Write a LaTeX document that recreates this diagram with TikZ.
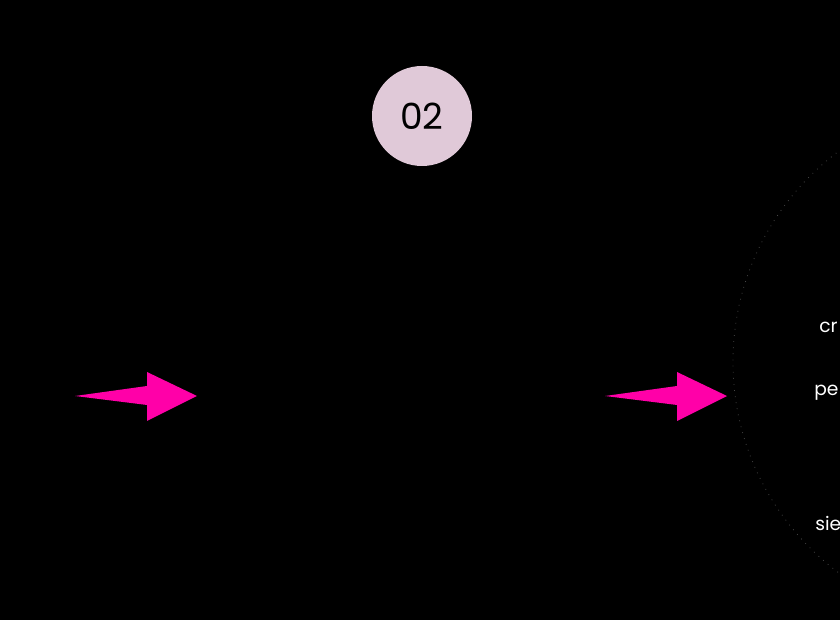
\documentclass[tikz,border=0pt]{standalone}
\usepackage{fontspec}
\setmainfont{Poppins}
\definecolor{bgblack}{RGB}{0,0,0}
\definecolor{mauve}{RGB}{224,201,216}
\definecolor{hotpink}{RGB}{255,0,168}
\definecolor{ringgray}{RGB}{70,70,70}
\tikzset{
  pinkarrow/.style={fill=hotpink, draw=none},
  bodytext/.style={text=black, font=\fontsize{14.5}{24.6}\selectfont, align=center, inner sep=0pt},
  sidetext/.style={text=black, font=\fontsize{14.5}{24.6}\selectfont, align=right, inner sep=0pt, anchor=east},
  cuttext/.style={text=white, font=\fontsize{14}{18}\selectfont, inner sep=0pt, anchor=west},
}
\begin{document}
\begin{tikzpicture}[x=0.75pt,y=-0.75pt]
\fill[bgblack] (0,0) rectangle (840,620);
\useasboundingbox (0,0) rectangle (840,620);
\clip (0,0) rectangle (840,620);
% step number badge
\node[circle, fill=mauve, minimum size=75pt, inner sep=0pt] (badge) at (422,116) {};
\node[text=black, font=\fontsize{27}{32}\selectfont\addfontfeatures{FakeBold=0}] (num) at (badge) {02};
% title and body
\node[text=black, font=\fontsize{23}{28}\selectfont, inner sep=0pt] (title) at (423,226) {Estrategia};
\node[bodytext] (body) at (418,400) {Diseñamos la propuesta y\\
acompañamiento de tus clientes\\
basado en tus necesidades\\
y las de tus clientes, teniendo en cuenta\\
objetivos específicos y\\
entendiendo su misión y visión de\\
tu negocio del cuerpo a la mente\\
propuesta};
% left column remnants
\node[sidetext] (l1) at (58,285) {ticas};
\node[sidetext] (l2) at (50,318) {ción};
\node[sidetext] (l3) at (47,350) {ía y};
\node[sidetext] (l4) at (55,383) {dos};
\node[sidetext] (l5) at (56,449) {sión};
% arrows
\coordinate (a1) at (75,396);
\path[pinkarrow] (a1) -- (147,386) -- (147,372) -- (197,396) -- (147,421) -- (147,405) -- cycle;
\coordinate (a2) at (605,396);
\path[pinkarrow] (a2) -- (677,386) -- (677,372) -- (727,396) -- (677,421) -- (677,405) -- cycle;
% right circle
\coordinate (rc) at (996,362);
\draw[ringgray, loosely dotted, line width=0.6pt] (rc) circle (263);
\node[cuttext] (r1) at (819,327) {cr};
\node[cuttext] (r2) at (814,393) {pe};
\node[cuttext] (r3) at (815,523) {sie};
\end{tikzpicture}
\end{document}
